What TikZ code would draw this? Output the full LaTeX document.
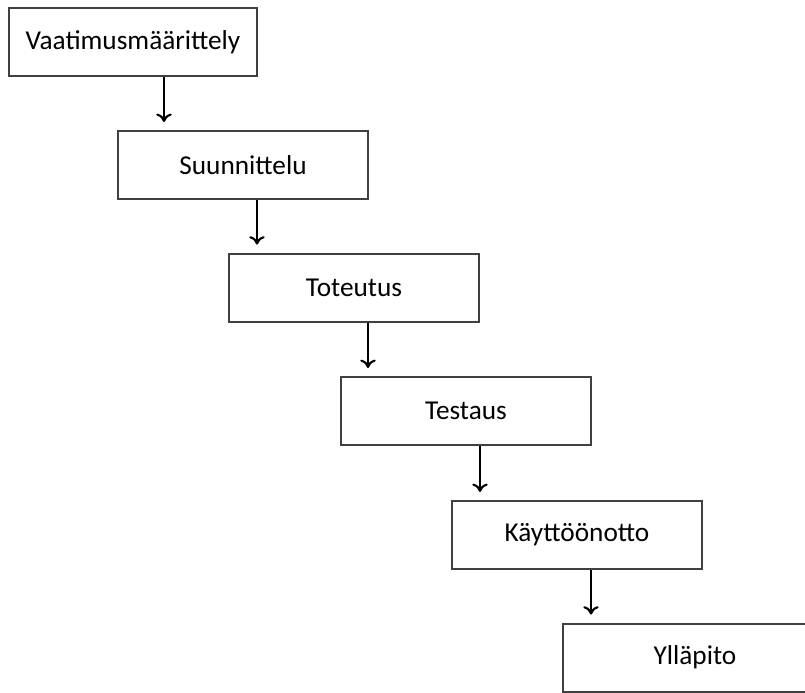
\documentclass[tikz,border=0pt]{standalone}
\usepackage{fontspec}
\setmainfont{Carlito}
\usepackage{tikz}
\usetikzlibrary{arrows.meta}
\definecolor{myframe}{RGB}{64,64,64}
\newcommand{\widthphase}{6.25cm}
\newcommand{\heightphase}{1.7cm}
\tikzset{
    phase/.style={draw=myframe, line width=1.4pt, rectangle, fill=white,
        minimum width=\widthphase, minimum height=\heightphase,
        font=\fontsize{19.4}{21}\selectfont},
    flow/.style={-{To[length=6pt, width=11pt, line width=1.5pt]}, line width=1.7pt, shorten >=5.7pt}
}
\begin{document}
\begin{tikzpicture}
            \clip (0,0) rectangle (20.125,-17.325);
            \path
                (3.325,-1.05) node[phase, minimum width=6.2cm] (vaat) {Vaatimusmäärittely}
                ++(2.75,-3.075) node[phase] (suun) {Suunnittelu}
                ++(2.775,-3.065) node[phase] (tote) {Toteutus}
                ++(2.8,-3.085) node[phase] (test) {Testaus}
                ++(2.775,-3.1) node[phase] (kayt) {Käyttöönotto}
                ++(2.95,-3.065) node[phase, minimum width=6.6cm] (yllap) {Ylläpito};

            \draw[flow] ([xshift=0.775cm]vaat.south) -- ([xshift=0.775cm]vaat.south |- suun.north);
            \draw[flow] ([xshift=0.35cm]suun.south) -- ([xshift=0.35cm]suun.south |- tote.north);
            \draw[flow] ([xshift=0.35cm]tote.south) -- ([xshift=0.35cm]tote.south |- test.north);
            \draw[flow] ([xshift=0.35cm]test.south) -- ([xshift=0.35cm]test.south |- kayt.north);
            \draw[flow] ([xshift=0.35cm]kayt.south) -- ([xshift=0.35cm]kayt.south |- yllap.north);
        \end{tikzpicture}
\end{document}
